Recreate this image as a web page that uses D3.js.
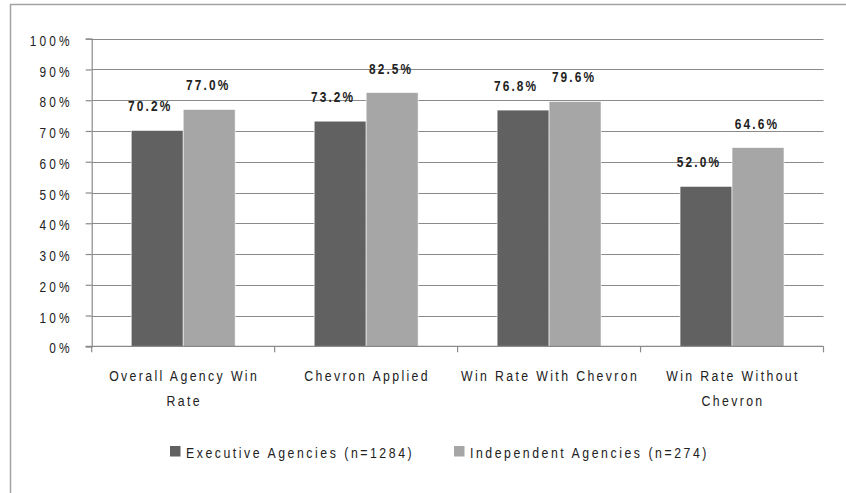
<!DOCTYPE html>
<html>
<head>
<meta charset="utf-8">
<script src="https://cdn.jsdelivr.net/npm/d3@7"></script>
<style>
	body { margin: 0; background: #fff; }
	svg text { font-family: "Liberation Sans", Arial, sans-serif; fill: #222; }
</style>
</head>
<body>
<div id="chart"></div>
<script>
// chart values
var categories = [["Overall Agency Win", "Rate"], ["Chevron Applied"], ["Win Rate With Chevron"], ["Win Rate Without", "Chevron"]];
var seriesNames = ["Executive Agencies (n=1284)", "Independent Agencies (n=274)"];
var executive = [70.2, 73.2, 76.8, 52.0];
var independent = [77.0, 82.5, 79.6, 64.6];
var yTicks = [0, 10, 20, 30, 40, 50, 60, 70, 80, 90, 100];

const
	W = 846, H = 493,
	LEFT = 91.7, RIGHT = 823.5, TOP = 38.7, BOTTOM = 346.3,
	colors = ["#616161", "#a6a6a6"],
	GRID = "#8a8a8a",
	NARROW = 0.82; // the source font is a condensed face, squeeze Liberation Sans to match

var svg = d3.select("#chart").append("svg")
	.attr("width", W)
	.attr("height", H);

var squeeze = function(px, py) {
	return "translate(" + px + "," + py + ") scale(" + NARROW + ",1)";
};

// outer frame (only top and left visible)
svg.append("path")
	.attr("d", "M10.5," + H + "V4.5H" + W)
	.attr("fill", "none")
	.attr("stroke", "#a3a3a3")
	.attr("stroke-width", 1.5);

var x = d3.scaleBand().domain(d3.range(categories.length))
	.range([LEFT, RIGHT]).paddingInner(0).paddingOuter(0);
var inner = d3.scaleBand().domain([0, 1])
	.range([0, x.bandwidth()]).paddingInner(0).paddingOuter(0.76);
var y = d3.scaleLinear().domain([0, 100]).range([BOTTOM, TOP]);

// gridlines
svg.append("g").selectAll("line")
	.data(yTicks.filter(d => d > 0))
	.enter().append("line")
	.attr("x1", LEFT).attr("x2", RIGHT)
	.attr("y1", d => Math.round(y(d)) + 0.5).attr("y2", d => Math.round(y(d)) + 0.5)
	.attr("stroke", GRID).attr("stroke-width", 1.2);

// bars
var groups = svg.append("g").selectAll("g")
	.data(categories.map((c, i) => [executive[i], independent[i]]))
	.enter().append("g")
	.attr("transform", (d, i) => "translate(" + x(i) + ",0)");

groups.selectAll("rect")
	.data(d => d)
	.enter().append("rect")
	.attr("x", (d, j) => inner(j))
	.attr("width", inner.bandwidth())
	.attr("y", d => y(d))
	.attr("height", d => BOTTOM - y(d))
	.attr("fill", (d, j) => colors[j])
	.attr("stroke", "#fff").attr("stroke-width", 0.6);

// value labels sit a little left of the bar centre, as in the original
groups.selectAll("text.val")
	.data(d => d)
	.enter().append("text")
	.attr("class", "val")
	.attr("transform", (d, j) => squeeze(inner(j) + inner.bandwidth() / 2 + (j == 0 ? -7 : -1), y(d) - 19))
	.attr("text-anchor", "middle")
	.style("font-size", "14.5px")
	.style("font-weight", "bold")
	.style("letter-spacing", "2.6px")
	.text(d => d.toFixed(1) + "%");

// y axis
var yAxis = d3.axisLeft(y).tickValues(yTicks).tickSize(6).tickPadding(0)
	.tickFormat(d => d + "%");
var gy = svg.append("g")
	.attr("transform", "translate(" + LEFT + ",0)")
	.call(yAxis);
gy.select(".domain").attr("stroke", GRID).attr("stroke-width", 1.2);
gy.selectAll(".tick line").attr("stroke", GRID).attr("stroke-width", 1.2);
gy.selectAll(".tick text")
	.attr("x", 0)
	.attr("transform", squeeze(-19, 2))
	.style("font-size", "14.5px")
	.style("letter-spacing", "3.8px")
	.attr("fill", "#222");

// x axis
var xEdges = d3.range(categories.length + 1).map(i => LEFT + i * x.bandwidth());
svg.append("line")
	.attr("x1", LEFT - 6).attr("x2", RIGHT)
	.attr("y1", BOTTOM).attr("y2", BOTTOM)
	.attr("stroke", GRID).attr("stroke-width", 1.2);
svg.append("g").selectAll("line")
	.data(xEdges)
	.enter().append("line")
	.attr("x1", d => d).attr("x2", d => d)
	.attr("y1", BOTTOM).attr("y2", BOTTOM + 6)
	.attr("stroke", GRID).attr("stroke-width", 1.2);

var catText = svg.append("g").selectAll("text")
	.data(categories)
	.enter().append("text")
	.attr("transform", (d, i) => squeeze(x(i) + x.bandwidth() / 2 + 1, 381))
	.attr("text-anchor", "middle")
	.style("font-size", "15px")
	.style("letter-spacing", "2.9px");
catText.selectAll("tspan")
	.data(d => d)
	.enter().append("tspan")
	.attr("x", 0)
	.attr("dy", (d, k) => k == 0 ? 0 : 25)
	.text(d => d);

// legend
var legendX = [170, 454];
var legend = svg.selectAll(".legend")
	.data(seriesNames)
	.enter().append("g")
	.attr("class", "legend")
	.attr("transform", (d, i) => "translate(" + legendX[i] + ",446)");
legend.append("rect")
	.attr("width", 10.5).attr("height", 10.5)
	.attr("fill", (d, i) => colors[i]);
legend.append("text")
	.attr("transform", squeeze(16, 12))
	.style("font-size", "15px")
	.style("letter-spacing", "3.1px")
	.text(d => d);
</script>
</body>
</html>
